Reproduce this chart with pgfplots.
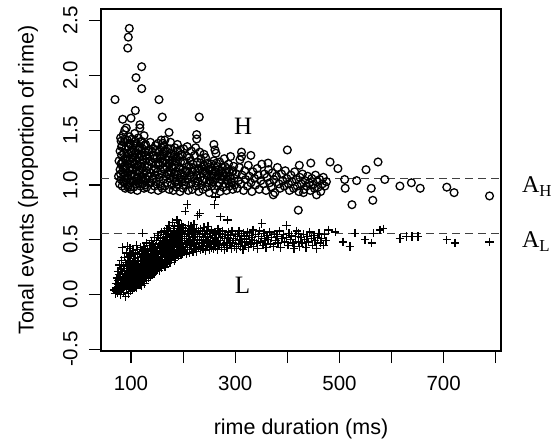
\documentclass[border=0pt]{standalone}
\usepackage{fontspec}
\setmainfont{Liberation Serif}
\setsansfont{Liberation Sans}
\usepackage{pgfplots}
\pgfplotsset{compat=1.18}

\begin{document}
\begin{tikzpicture}
\begin{axis}[
    scale only axis,
    width=400bp,
    height=342bp,
    xmin=42.4, xmax=810,
    ymin=-0.516, ymax=2.607,
    clip=false,
    axis line style={line width=1.1bp, black},
    tick style={line width=1.1bp, black},
    tick align=outside,
    major tick length=12bp,
    xtick pos=bottom,
    ytick pos=left,
    xtick={100,200,...,800},
    xticklabels={100,,300,,500,,700,},
    ytick={-0.5,0,...,2.5},
    /pgf/number format/assume math mode=true,
    yticklabel={\pgfmathprintnumber[fixed,fixed zerofill,precision=1]{\tick}},
    ticklabel style={font=\fontsize{20.5bp}{24bp}\sffamily},
    yticklabel style={rotate=90, anchor=south, yshift=8bp},
    xticklabel style={anchor=north, yshift=-10bp},
    xlabel={rime duration (ms)},
    ylabel={Tonal events (proportion of rime)},
    label style={font=\fontsize{21.5bp}{26bp}\sffamily},
    xlabel style={at={(rel axis cs:0.5,0)}, anchor=center, yshift=-78bp},
    ylabel style={at={(rel axis cs:0,0.5)}, anchor=center, yshift=73bp},
]

% H: proportion of rime carrying high tonal events
\addplot[only marks, mark=o, mark size=3.9bp, line width=1.3bp, black] coordinates {
(76,1.08)(77,1.22)(78,1.01)(79,1.31)(79,1.14)(80,1.43)(81,1.19)(81,1.05)(82,1.27)(83,0.99)(83,1.36)(84,1.12)(84,1.21)
(85,1.46)(86,1.03)(86,1.29)(87,1.17)(87,1.39)(88,1.08)(89,1.24)(89,0.97)(90,1.33)(90,1.15)(91,1.52)(91,1.04)(92,1.26)
(93,1.11)(93,1.41)(94,0.98)(94,1.19)(95,1.35)(95,1.07)(96,1.28)(97,1.13)(97,1.44)(98,1.02)(98,1.23)(99,1.37)(99,1.16)
(100,0.96)(100,1.31)(101,1.09)(101,1.21)(102,1.42)(103,1.03)(103,1.27)(104,1.15)(105,1.36)(105,0.98)(106,1.19)(107,1.08)
(107,1.47)(108,1.29)(109,1.01)(109,1.13)(110,1.38)(111,1.22)(111,1.06)(112,0.95)(113,1.32)(113,1.17)(114,1.43)(115,1.04)
(115,1.25)(116,1.11)(117,1.35)(118,0.99)(118,1.20)(119,1.28)(120,1.07)(120,1.40)(121,1.15)(122,1.01)(122,1.33)(123,1.23)
(124,1.10)(125,1.45)(125,0.97)(126,1.18)(127,1.30)(128,1.05)(128,1.37)(129,1.13)(130,1.24)(130,0.98)
(132,1.08)(133,1.31)(134,1.17)(135,1.02)(136,1.26)(137,1.39)(138,1.11)(139,0.96)(140,1.21)(141,1.05)(142,1.33)(143,1.14)
(144,1.27)(145,0.99)(146,1.09)(147,1.36)(148,1.19)(149,1.03)(150,1.25)(151,1.12)(152,0.95)(153,1.30)(154,1.07)(155,1.18)
(156,1.01)(157,1.24)(158,1.34)(159,1.10)(160,0.97)(161,1.20)(162,1.05)(163,1.28)(164,1.14)(165,0.99)(166,1.23)(167,1.08)
(168,1.31)(169,1.16)(170,1.02)(171,1.12)(172,1.26)(173,0.96)(174,1.19)(175,1.06)(176,1.29)(177,1.11)(178,1.00)(179,1.22)
(180,1.15)(181,0.95)(182,1.07)(183,1.27)(184,1.18)(185,1.03)(186,1.12)(187,0.98)(188,1.24)(189,1.09)(190,1.31)(191,1.01)
(192,1.16)(193,1.06)(194,0.94)(195,1.21)(196,1.11)(197,1.28)(198,1.03)(199,1.14)(200,0.97)
(152,1.38)(158,1.41)(163,1.36)(171,1.33)(176,1.39)(184,1.34)(189,1.37)(194,1.32)(201,1.33)(208,1.35)(216,1.31)(224,1.34)(232,1.30)(240,1.28)
(80,1.10)(82,1.35)(85,1.15)(87,1.02)(88,1.42)(90,1.22)(92,1.06)(94,1.29)(96,1.00)(97,1.38)(99,1.09)(101,1.30)(102,1.14)
(104,1.25)(106,1.04)(108,1.40)(110,1.16)(112,1.28)(114,1.02)(116,1.33)(117,1.13)(119,1.39)(121,1.26)(123,1.05)(126,1.36)
(127,1.00)(129,1.27)(131,1.16)(134,1.32)(135,1.22)(138,1.02)(140,1.30)(143,1.06)(145,1.24)(147,1.15)(149,1.32)(152,1.20)
(155,1.27)(157,0.99)(160,1.27)(162,1.15)(165,1.31)(168,1.20)(170,1.10)(173,1.20)(175,1.33)(178,1.17)(181,1.25)(183,1.10)
(186,1.22)(188,1.03)(191,1.26)(194,1.15)(197,1.05)(200,1.22)(204,1.03)(207,1.12)(212,1.25)(216,1.07)(220,1.15)(224,1.02)
(228,1.13)(233,1.20)(237,1.04)(241,1.17)(245,1.11)(249,1.16)(252,1.04)(256,1.13)(260,1.08)(264,1.20)(268,1.14)(272,1.08)
(276,1.11)(280,1.17)(284,1.05)(288,1.12)(292,1.03)(296,1.13)
(202,1.08)(203,1.20)(205,1.00)(206,1.13)(207,1.26)(209,1.05)(210,0.95)(211,1.17)(213,1.09)(214,1.22)(215,1.01)(217,1.12)
(218,0.96)(219,1.19)(221,1.06)(222,1.27)(223,1.14)(225,0.99)(226,1.09)(227,1.21)(229,1.03)(230,0.94)(231,1.15)(233,1.07)
(234,1.24)(235,1.00)(237,1.11)(238,0.96)(239,1.18)(241,1.05)(242,1.13)(243,1.25)(245,0.98)(246,1.09)(247,1.20)(249,1.02)
(250,0.93)(251,1.14)(253,1.07)(254,1.19)(255,0.99)(257,1.10)(258,1.03)(259,1.22)(261,0.96)(262,1.12)(263,1.06)(265,1.17)
(266,0.99)(267,1.09)(269,1.02)(270,1.21)(271,0.94)(273,1.13)(274,1.05)(275,1.16)(277,0.98)(278,1.08)(279,1.24)(281,1.01)
(282,1.11)(283,0.95)(285,1.15)(286,1.04)(287,1.19)(289,0.99)(290,1.08)(291,1.26)(293,1.02)(294,1.12)(295,0.96)(297,1.17)
(298,1.06)(299,1.00)
(302,1.10)(304,0.97)(306,1.04)(308,1.16)(311,1.01)(313,1.09)(316,0.95)(318,1.13)(320,1.05)(323,0.99)(325,1.18)(327,1.08)
(330,1.02)(332,0.94)(334,1.12)(337,1.06)(339,1.00)(342,1.15)(344,1.09)(346,0.96)(349,1.04)(351,1.19)(354,1.01)(356,1.10)
(359,0.95)(361,1.07)(364,1.14)(366,1.02)(369,0.98)(371,1.11)(374,1.05)(376,0.93)(379,1.08)(381,1.16)(384,1.01)(386,0.97)
(389,1.10)(391,1.04)(394,0.99)(396,1.13)(399,1.06)
(402,1.01)(404,0.95)(407,1.09)(409,1.03)(412,0.97)(414,1.12)(417,1.05)(419,0.99)(422,0.94)(424,1.07)(427,1.01)(429,1.10)
(432,0.96)(434,1.04)(437,0.99)(439,1.08)(442,1.02)(444,0.95)(447,1.06)(449,1.00)(452,0.97)(454,1.09)(457,1.03)(459,0.98)
(462,1.05)(464,0.94)(467,1.01)(469,1.07)(472,0.99)(475,1.03)
(96.7,2.43)(94.8,2.35)(93.7,2.25)(120.5,2.08)(109.6,1.98)(120.5,1.88)(69.3,1.78)(153.7,1.78)(160,1.62)
(108.3,1.68)(100,1.61)(84,1.60)(117,1.55)(117,1.52)(231,1.62)(173,1.48)(161,1.38)(165,1.41)(88,1.50)(81,1.40)
(226,1.46)(226,1.42)(259,1.37)(261,1.32)(263,1.29)(312,1.30)(330,1.27)(312,1.26)(309,1.23)(400,1.32)
(423,1.18)(445,1.20)(482,1.21)(497,1.15)(551,1.14)(574,1.21)(510,1.05)(533,1.04)(587,1.05)(511,0.97)
(561,0.97)(564,0.86)(616,0.99)(638,1.02)(655,0.97)(706,0.98)(720,0.93)(788,0.90)(524,0.82)(421,0.77)
(82,1.20)(98,0.98)(373,0.91)(431,0.93)(456,0.91)(363,1.20)
};

% L: proportion of rime carrying low tonal events
\addplot[only marks, mark=+, mark size=4.2bp, line width=1.3bp, black] coordinates {
(68,0.04)(70,0.01)(71,0.10)(72,0.06)(73,0.15)(74,0.02)(75,0.09)(75,0.21)(76,0.13)(77,0.04)(78,0.18)(78,0.27)(79,0.08)
(80,0.14)(80,0.00)(81,0.23)(82,0.11)(82,0.31)(83,0.05)(83,0.43)(84,0.19)(85,0.26)(85,0.09)(86,0.02)(86,0.15)(87,0.34)
(88,0.21)(88,0.07)(89,0.12)(89,0.29)(90,-0.02)(90,0.18)(91,0.38)(91,0.05)(92,0.24)(92,0.13)(93,0.44)(93,0.31)(94,0.09)
(94,0.20)(95,0.01)(95,0.27)(96,0.16)(96,0.35)(97,0.06)(97,0.22)(98,0.42)(98,0.12)(99,0.30)(99,0.03)(100,0.18)(100,0.25)
(101,0.08)(101,0.36)(102,0.14)(102,0.22)(103,0.29)(103,0.04)(104,0.18)(104,0.40)(105,0.11)(105,0.26)(106,0.33)(106,0.07)
(107,0.20)(107,0.15)(108,0.38)(108,0.24)(109,0.10)(109,0.30)(110,0.45)(110,0.17)(111,0.22)(111,0.06)(112,0.34)(112,0.13)
(113,0.27)(113,0.41)(114,0.19)(114,0.09)(115,0.31)(115,0.24)(116,0.14)(116,0.37)(117,0.21)(117,0.11)(118,0.28)(118,0.43)
(119,0.17)(119,0.34)(120,0.08)(120,0.25)(121,0.39)(121,0.15)(122,0.56)(122,0.30)(123,0.21)(123,0.12)(124,0.35)(124,0.27)
(125,0.44)(125,0.18)(126,0.10)(126,0.32)(127,0.24)(127,0.40)(128,0.15)(128,0.29)(129,0.36)(129,0.20)(130,0.47)(130,0.13)
(131,0.26)(131,0.33)(132,0.18)(132,0.41)(133,0.23)(133,0.30)(134,0.15)(134,0.37)(135,0.45)(135,0.27)(136,0.20)(136,0.34)
(137,0.17)(137,0.42)(138,0.29)(138,0.24)(139,0.36)(139,0.49)(140,0.21)(140,0.31)(141,0.18)(141,0.39)(142,0.27)(142,0.46)
(143,0.33)(143,0.23)(144,0.41)(144,0.19)(145,0.30)(145,0.52)(146,0.36)(146,0.25)(147,0.44)(147,0.21)(148,0.32)(148,0.39)
(149,0.27)(149,0.49)(150,0.23)(150,0.35)(151,0.42)(151,0.29)(152,0.54)(152,0.25)(153,0.37)(153,0.32)(154,0.46)(154,0.22)
(155,0.40)(155,0.28)(156,0.34)(156,0.51)(157,0.26)(157,0.43)(158,0.38)(158,0.31)(159,0.57)(159,0.24)(160,0.47)(160,0.35)
(161,0.29)(161,0.41)(162,0.52)(162,0.27)(163,0.37)(163,0.44)(164,0.32)(164,0.58)(165,0.25)(165,0.49)(166,0.40)(166,0.34)
(167,0.55)(167,0.30)(168,0.45)(168,0.38)(169,0.28)(169,0.60)(170,0.42)(170,0.50)(171,0.35)(171,0.31)(172,0.47)(172,0.56)
(173,0.39)(173,0.63)(174,0.33)(174,0.44)(175,0.52)(175,0.29)(176,0.41)(176,0.58)(177,0.36)(177,0.48)(178,0.32)(178,0.54)
(179,0.66)(179,0.43)(180,0.38)(180,0.50)(181,0.34)(181,0.60)(182,0.46)(182,0.40)(183,0.55)(183,0.31)(184,0.43)(184,0.62)
(185,0.37)(185,0.51)(186,0.47)(186,0.33)(187,0.57)(187,0.41)(188,0.68)(188,0.36)(189,0.49)(189,0.44)(190,0.58)(190,0.39)
(191,0.52)(191,0.35)(192,0.45)(192,0.63)(193,0.41)(193,0.55)(194,0.38)(194,0.49)(195,0.60)(195,0.44)(196,0.36)(196,0.53)
(197,0.47)(197,0.64)(198,0.40)(198,0.57)(199,0.51)(199,0.37)(200,0.44)(200,0.61)(202,0.49)(202,0.39)(203,0.55)(204,0.76)
(72,0.03)(76,0.07)(79,0.16)(81,0.04)(84,0.13)(86,0.24)(88,0.15)(90,0.09)(91,0.27)(93,0.17)(95,0.12)(96,0.08)(97,0.29)
(99,0.21)(101,0.16)(103,0.12)(104,0.28)(106,0.21)(108,0.13)(110,0.27)(112,0.20)(114,0.30)(116,0.22)(118,0.15)(120,0.31)
(122,0.19)(124,0.22)(126,0.29)(128,0.35)(130,0.22)(132,0.28)(134,0.31)(136,0.26)(138,0.35)(140,0.40)(142,0.34)(144,0.29)
(146,0.42)(148,0.29)(150,0.40)(152,0.34)(154,0.30)(156,0.44)(158,0.45)(160,0.30)(162,0.38)(164,0.42)(166,0.47)(168,0.53)
(170,0.40)(172,0.41)(174,0.50)(176,0.46)(178,0.40)(180,0.45)(182,0.53)(184,0.50)(186,0.54)(188,0.46)(190,0.48)(192,0.52)
(194,0.58)(196,0.46)(198,0.49)
(204,0.43)(205,0.60)(206,0.37)(206,0.51)(207,0.46)(208,0.82)(208,0.56)(209,0.41)(210,0.63)(210,0.48)(211,0.53)(212,0.38)
(213,0.58)(213,0.45)(214,0.50)(215,0.62)(216,0.41)(216,0.55)(217,0.47)(218,0.59)(219,0.39)(219,0.52)(220,0.44)(221,0.64)
(222,0.49)(222,0.57)(223,0.42)(224,0.53)(225,0.60)(225,0.46)(226,0.39)(227,0.55)(228,0.72)(228,0.50)(229,0.43)(230,0.58)
(231,0.47)(232,0.74)(232,0.53)(233,0.41)(234,0.60)(235,0.49)(236,0.45)(237,0.56)(238,0.42)(239,0.52)(240,0.61)(241,0.47)
(242,0.55)(243,0.40)(244,0.50)(245,0.58)(246,0.44)(247,0.53)(248,0.62)(249,0.48)(250,0.41)(251,0.56)(252,0.46)(253,0.52)
(254,0.43)(255,0.59)(256,0.49)(257,0.54)(258,0.42)(259,0.47)(260,0.82)(260,0.57)(261,0.51)(262,0.89)(262,0.44)(263,0.55)
(265,0.48)(266,0.41)(267,0.60)(268,0.52)(269,0.45)(271,0.56)(272,0.71)(272,0.49)(273,0.43)(275,0.53)(276,0.58)(277,0.46)
(279,0.41)(280,0.51)(281,0.55)(283,0.47)(284,0.43)(285,0.68)(286,0.52)(287,0.57)(289,0.45)(290,0.49)(291,0.54)(293,0.42)
(294,0.58)(295,0.47)(297,0.51)(298,0.44)(300,0.55)(301,0.49)(303,0.42)(304,0.53)(306,0.46)(307,0.58)(309,0.50)(310,0.44)
(312,0.54)(313,0.48)(315,0.41)(316,0.56)(318,0.51)(319,0.45)(321,0.53)(322,0.48)(324,0.57)(325,0.43)(327,0.50)(328,0.54)
(330,0.46)(332,0.52)(334,0.59)(335,0.44)(337,0.49)(339,0.55)(341,0.47)(343,0.42)(345,0.53)(347,0.58)(349,0.48)(351,0.65)
(351,0.51)(353,0.45)(355,0.56)(357,0.49)(359,0.43)(361,0.54)(363,0.50)(366,0.57)(368,0.46)(370,0.52)(373,0.44)(375,0.55)
(377,0.49)(380,0.53)(382,0.47)(385,0.58)(387,0.43)(390,0.51)(392,0.55)(395,0.48)(398,0.63)(398,0.52)(401,0.45)(403,0.56)
(406,0.50)(408,0.54)(411,0.47)(413,0.42)(416,0.53)(418,0.58)(421,0.56)(421,0.48)(423,0.44)(426,0.52)(428,0.47)(431,0.55)
(433,0.50)(436,0.43)(438,0.53)(441,0.48)(443,0.57)(446,0.51)(448,0.45)(451,0.54)(453,0.49)(456,0.42)(458,0.52)(461,0.56)
(463,0.47)(466,0.51)(469,0.45)(471,0.55)(474,0.49)
(479,0.59)(492,0.57)(507,0.48)(520,0.44)(530,0.56)(549,0.50)(562,0.47)(565,0.56)(578,0.59)(584,0.60)
(616,0.51)(629,0.53)(639,0.53)(651,0.53)(706,0.50)(722,0.47)(788,0.48)
};

% reference levels A_H and A_L
\addplot[black!75, line width=1.1bp, dash pattern=on 8bp off 5bp] coordinates {(42.4,1.06) (810,1.06)};
\addplot[black!75, line width=1.1bp, dash pattern=on 8bp off 5bp] coordinates {(42.4,0.56) (810,0.56)};

\node[font=\fontsize{25bp}{28bp}\selectfont] at (axis cs:315,1.54) {H};
\node[font=\fontsize{25bp}{28bp}\selectfont] at (axis cs:314,0.087) {L};
\node[anchor=base west, inner sep=0pt, font=\fontsize{24bp}{28bp}\selectfont] at (axis cs:850,0.927) {A\textsubscript{H}};
\node[anchor=base west, inner sep=0pt, font=\fontsize{24bp}{28bp}\selectfont] at (axis cs:850,0.425) {A\textsubscript{L}};

\coordinate (O) at (rel axis cs:0,0);
\end{axis}
\pgfresetboundingbox
\path ([shift={(-101bp,-90bp)}]O) rectangle ++(558bp,441bp);
\end{tikzpicture}
\end{document}
